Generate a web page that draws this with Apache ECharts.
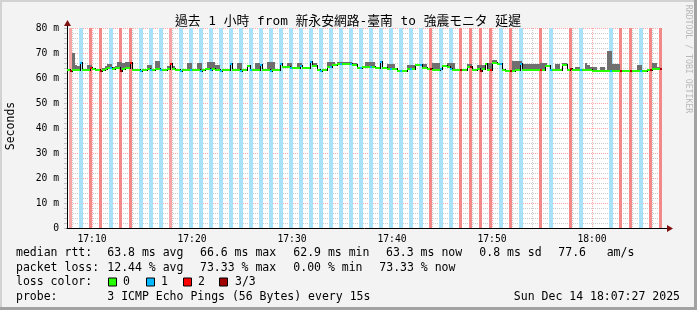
<!DOCTYPE html>
<html><head><meta charset="utf-8">
<script src="https://cdn.jsdelivr.net/npm/echarts@6/dist/echarts.min.js"></script>
<style>html,body{margin:0;padding:0;background:#f3f3f3}#c{width:697px;height:310px}</style>
</head><body><div id="c"></div>
<script>
// ---- data ----
const START_MIN = 7.5;      // 17:07:30 (minutes after 17:00)
const END_MIN = 67;         // 18:07:00
const STEP_MIN = 0.25;      // 15 s samples
const xTickLabels = {10:'17:10', 20:'17:20', 30:'17:30', 40:'17:40', 50:'17:50', 60:'18:00'};
const yTickValues = [0,10,20,30,40,50,60,70,80];

// pings lost (of 3) in the one lossy sample of each minute (sample 1 of 4)
const lossPerMinute = [
  3,1,2,3,1,3,2,1,1,1,
  2,1,1,1,1,1,1,1,1,1,
  1,1,1,1,1,1,1,1,1,1,
  1,1,1,1,1,1,3,1,1,3,
  3,3,2,1,3,1,0,2,1,0,
  3,1,0,0,1,3,3,1,3,3
];
const paleMinutes = [0, 10];

// median rtt (ms), 4 samples per minute
const median = [
  63.2,63.0,63.2,63.3, 63.3,65.9,63.4,63.2, 63.2,63.9,63.5,63.2, 63.2,62.9,63.2,63.5, 63.9,64.0,63.5,63.9,
  64.2,62.9,63.5,64.2, 64.0,65.9,63.2,63.2, 63.2,63.0,63.2,63.2, 63.5,63.2,63.3,63.5, 63.5,63.2,63.2,63.2,
  63.5,65.6,63.5,63.2, 63.2,63.0,63.2,63.2, 63.2,63.2,63.3,63.2, 63.2,63.0,63.2,63.5, 63.5,63.2,63.5,63.2,
  63.2,63.0,63.2,63.2, 63.2,65.6,63.2,63.2, 63.2,63.0,63.2,63.2, 64.7,63.2,63.2,63.2, 63.2,65.2,63.2,63.2,
  63.2,63.0,63.2,63.2, 63.2,65.6,64.5,64.5, 64.5,63.9,63.9,63.9, 63.9,64.7,63.9,63.9, 63.9,66.5,64.8,64.8,
  63.2,63.0,63.2,63.2, 64.5,64.5,65.2,65.2, 65.6,65.6,65.6,65.6, 65.6,65.6,65.2,65.2, 63.9,63.9,64.5,64.5,
  64.5,64.5,64.5,63.9, 63.9,66.5,63.9,63.9, 63.5,63.5,63.5,63.5, 62.8,62.8,62.8,62.8, 63.5,63.5,63.5,65.2,
  65.2,65.2,63.9,63.9, 63.5,63.5,63.2,63.2, 63.2,63.5,64.7,64.7, 64.5,63.5,63.2,63.2, 63.2,63.2,63.2,63.2,
  64.5,64.5,63.2,63.2, 63.5,62.8,63.5,65.6, 63.2,63.2,65.9,65.9, 65.6,65.6,63.2,63.0, 63.0,63.0,63.0,63.2,
  63.2,65.6,63.3,63.3, 63.3,63.3,63.3,63.3, 63.3,63.2,63.3,64.7, 64.7,63.2,63.2,63.2, 63.2,63.2,65.2,65.2,
  63.2,63.5,63.2,63.2, 63.2,63.2,63.2,63.2, 63.2,63.2,63.0,63.0, 63.0,62.8,62.8,63.0, 63.0,62.8,63.0,63.0,
  63.0,62.8,62.8,62.8, 63.0,63.0,63.0,63.0, 63.0,62.8,63.0,63.0, 63.3,63.3,63.5,63.5, 63.5,63.5,63.5,63.5
];
// highest ping (top of smoke, ms)
const smokeHigh = [
  63.2,63.0,69.9,65.2, 65.0,65.9,63.4,63.2, 65.2,65.2,64.0,63.2, 63.2,62.9,64.0,64.8, 65.5,65.5,64.5,65.0,
  66.3,66.3,66.2,66.3, 66.3,66.0,63.2,63.2, 63.2,63.0,63.2,63.2, 65.2,65.2,63.4,66.8, 66.8,63.2,63.2,63.2,
  65.0,65.6,65.0,63.2, 63.2,63.0,63.2,63.2, 65.9,65.9,63.3,63.2, 65.9,65.9,63.2,63.5, 66.5,66.5,66.5,65.2,
  65.2,63.0,63.2,63.2, 63.2,65.6,63.2,63.2, 66.0,66.0,63.2,63.2, 64.7,63.2,63.2,66.0, 66.0,65.2,63.2,63.2,
  66.5,66.5,66.5,63.2, 63.2,65.6,64.5,64.5, 65.9,65.9,63.9,63.9, 65.9,65.9,63.9,63.9, 63.9,66.5,65.9,65.9,
  63.2,63.0,63.2,63.2, 66.5,66.5,66.5,65.2, 66.5,66.5,66.5,66.5, 66.5,66.5,66.0,66.0, 63.9,63.9,64.5,66.5,
  66.5,66.5,66.5,63.9, 63.9,66.5,63.9,63.9, 65.6,65.6,65.6,63.5, 62.8,62.8,62.8,62.8, 65.2,65.2,65.2,65.2,
  65.2,65.2,65.6,65.6, 63.5,63.5,65.9,65.9, 65.9,63.5,64.7,64.7, 65.9,65.9,65.9,63.2, 63.2,63.2,63.2,63.2,
  65.6,65.6,63.2,63.2, 65.2,65.2,65.2,65.6, 65.9,65.9,67.2,67.2, 65.6,65.6,63.2,63.0, 63.0,63.0,67.0,67.0,
  67.0,67.0,65.5,65.5, 65.5,65.5,65.5,65.5, 65.5,65.9,65.9,65.9, 64.7,63.2,63.2,65.6, 65.6,63.2,65.9,65.9,
  63.2,63.5,63.2,64.5, 64.5,63.2,63.2,65.9, 65.2,64.5,64.5,64.5, 63.0,64.5,64.5,63.0, 70.8,70.8,65.6,65.6,
  65.6,62.8,62.8,62.8, 63.0,63.0,63.0,63.0, 65.2,65.2,63.0,63.0, 63.3,63.3,66.1,66.1, 64.5,63.5,63.5,63.5
];

// ---- styles ----
const LINE_COLORS = ['#26ff00', '#00b8ff', '#ff0000', '#a00000'];
const BAND_BLUE = '#a8e2f9', BAND_RED = '#f38888', BAND_PALE = '#f6a4a4';
const GRID_MINOR = 'rgba(128,128,128,0.42)', GRID_MAJOR = 'rgba(255,40,40,0.42)';
const MONO = "'DejaVu Sans Mono', monospace";
const yGridColors = [GRID_MAJOR, GRID_MINOR, GRID_MINOR, GRID_MINOR, GRID_MINOR];

// ---- derived series data ----
const bandData = lossPerMinute.map((l, k) => [START_MIN + STEP_MIN * (4 * k + 1), l, paleMinutes.includes(k) ? 1 : 0]).filter(d => d[1] > 0);
const smokeData = median.map((m, i) => [START_MIN + STEP_MIN * i, m, smokeHigh[i]]).filter(d => d[2] > d[1]);
const medianData = median.map((m, i) => {
  const k = Math.floor(i / 4), s = i % 4;
  const c = s === 1 ? lossPerMinute[k] : 0;
  return [START_MIN + STEP_MIN * i, m, i > 0 ? median[i - 1] : m, c];
});
// vertical grid: every 2 minutes, major every 10 minutes
const xGridData = [];
for (let v = Math.ceil(START_MIN / 2) * 2; v < END_MIN; v += 2) xGridData.push([v, v % 10 === 0 ? 1 : 0]);

const chart = echarts.init(document.getElementById('c'), null, {renderer: 'canvas'});

function renderBand(params, api) {
  const t = api.value(0), l = api.value(1), pale = api.value(2);
  const cs = params.coordSys;
  const x = Math.floor(api.coord([t, 0])[0]);
  const w = l === 1 ? 4 : 3;
  return {type: 'rect', shape: {x: x, y: cs.y, width: w, height: cs.height},
    style: {fill: l === 1 ? BAND_BLUE : (pale ? BAND_PALE : BAND_RED)}};
}
function renderXGrid(params, api) {
  const cs = params.coordSys;
  const x = Math.round(api.coord([api.value(0), 0])[0]) + 0.5;
  return {type: 'line', shape: {x1: x, y1: cs.y, x2: x, y2: cs.y + cs.height},
    style: {stroke: api.value(1) ? GRID_MAJOR : GRID_MINOR, lineWidth: 1, lineDash: [1, 1]}};
}
function renderSmoke(params, api) {
  const t = api.value(0);
  const a = api.coord([t, api.value(2)]);
  const b = api.coord([t + STEP_MIN, api.value(1)]);
  const x0 = Math.round(a[0]), x1 = Math.round(b[0]);
  return {type: 'rect', shape: {x: x0, y: Math.round(a[1]), width: x1 - x0, height: Math.round(b[1]) - Math.round(a[1])},
    style: {fill: '#6f6f6f'}};
}
function renderMedian(params, api) {
  const t = api.value(0), m = api.value(1), pm = api.value(2), c = api.value(3);
  const p0 = api.coord([t, m]), p1 = api.coord([t + STEP_MIN, m]), pp = api.coord([t, pm]);
  const x0 = Math.round(p0[0]), x1 = Math.round(p1[0]);
  const y = Math.round(p0[1]), yp = Math.round(pp[1]);
  const ch = [];
  if (yp !== y) ch.push({type: 'rect', shape: {x: x0, y: Math.min(y, yp) - 1, width: 1, height: Math.abs(y - yp) + 2}, style: {fill: '#000'}});
  ch.push({type: 'rect', shape: {x: x0, y: y - 1, width: x1 - x0, height: 2}, style: {fill: LINE_COLORS[c]}});
  return {type: 'group', children: ch};
}

function txt(x, y, s, opts) {
  return {type: 'text', x: x, y: y, style: Object.assign({text: s, fill: '#000', font: '11.5px ' + MONO, textAlign: 'left', textVerticalAlign: 'middle'}, opts || {})};
}
function box(x, y, color) {
  return {type: 'rect', shape: {x: x + 0.5, y: y + 0.5, width: 8, height: 8}, style: {fill: color, stroke: '#000', lineWidth: 1}};
}

const graphics = [
  {type: 'rect', shape: {x: 0, y: 0, width: 697, height: 2}, style: {fill: '#d2d2d2'}},
  {type: 'rect', shape: {x: 0, y: 0, width: 2, height: 310}, style: {fill: '#d2d2d2'}},
  {type: 'rect', shape: {x: 0, y: 307, width: 697, height: 3}, style: {fill: '#a2a2a2'}},
  {type: 'rect', shape: {x: 694, y: 0, width: 3, height: 310}, style: {fill: '#a2a2a2'}},
  {type: 'text', x: 348, y: 21.5, style: {text: '過去 1 小時 from 新永安網路-臺南 to 強震モニタ 延遲', fill: '#000',
    font: "12.8px 'DejaVu Sans Mono', 'Noto Sans CJK TC', monospace", textAlign: 'center', textVerticalAlign: 'middle'}},
  {type: 'text', x: 11, y: 126, rotation: Math.PI / 2, style: {text: 'Seconds', fill: '#000', font: '11.5px ' + MONO, textAlign: 'center', textVerticalAlign: 'middle'}},
  {type: 'text', x: 688, y: 59, rotation: -Math.PI / 2, style: {text: 'RRDTOOL / TOBI OETIKER', fill: '#b8b8b8', font: '8.2px ' + MONO, textAlign: 'center', textVerticalAlign: 'middle'}},
  {type: 'rect', z: 20, shape: {x: 662, y: 228, width: 6, height: 1}, style: {fill: '#000'}},
  {type: 'polygon', z: 20, shape: {points: [[667, 225], [667, 232], [673, 228.5]]}, style: {fill: '#7f1010'}},
  {type: 'rect', z: 20, shape: {x: 67, y: 25, width: 1, height: 4}, style: {fill: '#000'}},
  {type: 'polygon', z: 20, shape: {points: [[64, 26], [71, 26], [67.5, 20]]}, style: {fill: '#7f1010'}},
  txt(16, 253.5, 'median rtt:'), txt(107.3, 253.5, '63.8 ms avg'), txt(200, 253.5, '66.6 ms max'),
  txt(293.3, 253.5, '62.9 ms min'), txt(386, 253.5, '63.3 ms now'), txt(479.3, 253.5, '0.8 ms sd'),
  txt(558.3, 253.5, '77.6'), txt(606.7, 253.5, 'am/s'),
  txt(16, 268, 'packet loss:'), txt(107.3, 268, '12.44 % avg'), txt(200, 268, '73.33 % max'),
  txt(293.3, 268, '0.00 % min'), txt(379.3, 268, '73.33 % now'),
  txt(16, 282.5, 'loss color:'),
  box(108, 277.5, LINE_COLORS[0]), txt(123, 282.5, '0'),
  box(146, 277.5, LINE_COLORS[1]), txt(161, 282.5, '1'),
  box(183, 277.5, LINE_COLORS[2]), txt(198, 282.5, '2'),
  box(219, 277.5, LINE_COLORS[3]), txt(235, 282.5, '3/3'),
  txt(16, 297, 'probe:'), txt(107.3, 297, '3 ICMP Echo Pings (56 Bytes) every 15s'),
  txt(680, 297, 'Sun Dec 14 18:07:27 2025', {textAlign: 'right'})
];

chart.setOption({
  animation: false,
  backgroundColor: '#f3f3f3',
  grid: {left: 67, top: 28, width: 595, height: 200, show: true, backgroundColor: '#ffffff', borderWidth: 0},
  xAxis: {
    type: 'value', min: START_MIN, max: END_MIN, z: 10,
    axisLine: {show: true, onZero: false, lineStyle: {color: '#000', width: 1}},
    axisTick: {show: false},
    axisLabel: {show: true, margin: 6, color: '#000', fontFamily: MONO, fontSize: 9.7,
      customValues: [10, 20, 30, 40, 50, 60], formatter: v => xTickLabels[v] || ''},
    splitLine: {show: false}
  },
  yAxis: {
    type: 'value', min: 0, max: 80, interval: 2, z: 0,
    axisLine: {show: true, onZero: false, lineStyle: {color: '#000', width: 1}},
    axisTick: {show: true, length: 3, lineStyle: {color: '#c0c0c0'}},
    axisLabel: {margin: 8, color: '#000', fontFamily: MONO, fontSize: 9.7,
      formatter: v => yTickValues.includes(v) ? (v === 0 ? '0' : v + ' m') : ''},
    splitLine: {show: true, lineStyle: {color: yGridColors, type: [1, 1], width: 1}}
  },
  series: [
    {type: 'custom', name: 'xgrid', renderItem: renderXGrid, data: xGridData, clip: true, z: 0, silent: true, encode: {x: 0}},
    {type: 'custom', name: 'loss', renderItem: renderBand, data: bandData, clip: true, z: 1, silent: true, encode: {x: 0, y: 1}},
    {type: 'custom', name: 'smoke', renderItem: renderSmoke, data: smokeData, clip: true, z: 2, silent: true, encode: {x: 0, y: [1, 2]}},
    {type: 'custom', name: 'median', renderItem: renderMedian, data: medianData, clip: true, z: 3, silent: true, encode: {x: 0, y: 1}}
  ],
  graphic: graphics
});
</script></body></html>
